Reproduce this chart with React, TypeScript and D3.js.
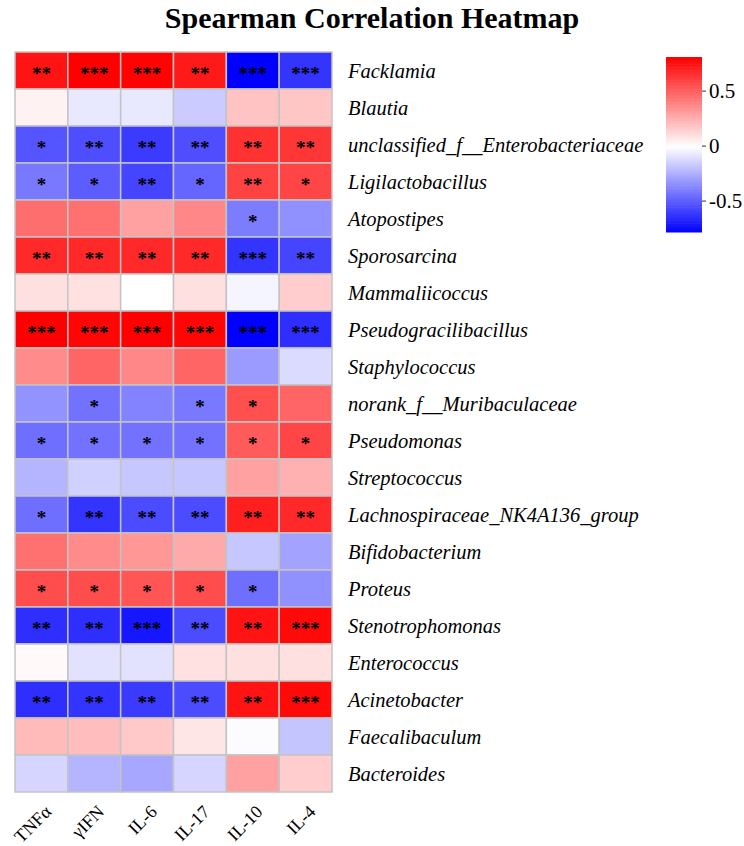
import React from 'react';
import * as d3 from 'd3';

const taxa = [
  'Facklamia', 'Blautia', 'unclassified_f__Enterobacteriaceae', 'Ligilactobacillus', 'Atopostipes',
  'Sporosarcina', 'Mammaliicoccus', 'Pseudogracilibacillus', 'Staphylococcus', 'norank_f__Muribaculaceae',
  'Pseudomonas', 'Streptococcus', 'Lachnospiraceae_NK4A136_group', 'Bifidobacterium', 'Proteus',
  'Stenotrophomonas', 'Enterococcus', 'Acinetobacter', 'Faecalibaculum', 'Bacteroides',
];

const cytokines = ['TNFα', 'γIFN', 'IL-6', 'IL-17', 'IL-10', 'IL-4'];

// spearman rho, one row per taxon, columns follow cytokines
const rho = [
  [0.75, 0.81, 0.80, 0.73, -0.78, -0.62],
  [0.04, -0.07, -0.07, -0.16, 0.19, 0.18],
  [-0.52, -0.54, -0.60, -0.54, 0.65, 0.64],
  [-0.41, -0.50, -0.57, -0.47, 0.60, 0.59],
  [0.46, 0.45, 0.30, 0.38, -0.40, -0.34],
  [0.68, 0.68, 0.68, 0.68, -0.62, -0.57],
  [0.10, 0.095, 0.0, 0.10, -0.03, 0.16],
  [0.81, 0.79, 0.81, 0.79, -0.78, -0.64],
  [0.37, 0.49, 0.38, 0.49, -0.31, -0.11],
  [-0.33, -0.43, -0.38, -0.41, 0.56, 0.49],
  [-0.44, -0.43, -0.43, -0.43, 0.52, 0.59],
  [-0.23, -0.14, -0.17, -0.17, 0.30, 0.25],
  [-0.44, -0.62, -0.55, -0.55, 0.71, 0.68],
  [0.45, 0.37, 0.33, 0.27, -0.17, -0.28],
  [0.57, 0.57, 0.54, 0.57, -0.44, -0.34],
  [-0.64, -0.64, -0.71, -0.55, 0.75, 0.78],
  [0.02, -0.09, -0.09, 0.095, 0.10, 0.10],
  [-0.64, -0.62, -0.60, -0.55, 0.75, 0.78],
  [0.22, 0.21, 0.17, 0.08, -0.01, -0.18],
  [-0.13, -0.23, -0.27, -0.13, 0.30, 0.16],
];

const stars = [
  ['**', '***', '***', '**', '***', '***'],
  ['', '', '', '', '', ''],
  ['*', '**', '**', '**', '**', '**'],
  ['*', '*', '**', '*', '**', '*'],
  ['', '', '', '', '*', ''],
  ['**', '**', '**', '**', '***', '**'],
  ['', '', '', '', '', ''],
  ['***', '***', '***', '***', '***', '***'],
  ['', '', '', '', '', ''],
  ['', '*', '', '*', '*', ''],
  ['*', '*', '*', '*', '*', '*'],
  ['', '', '', '', '', ''],
  ['*', '**', '**', '**', '**', '**'],
  ['', '', '', '', '', ''],
  ['*', '*', '*', '*', '*', ''],
  ['**', '**', '***', '**', '**', '***'],
  ['', '', '', '', '', ''],
  ['**', '**', '**', '**', '**', '***'],
  ['', '', '', '', '', ''],
  ['', '', '', '', '', ''],
];

const legendTicks = [0.5, 0, -0.5];
const rhoMin = -0.78;
const rhoMax = 0.81;

const W = 744;
const H = 846;
const font = '"Liberation Serif", "Times New Roman", serif';

const App: React.FC = () => {
  const grid = { left: 15, top: 52, width: 317, height: 740 };

  const x = d3.scaleBand<string>().domain(cytokines).range([grid.left, grid.left + grid.width]);
  const y = d3.scaleBand<string>().domain(taxa).range([grid.top, grid.top + grid.height]);

  const color = d3.scaleLinear<string>()
    .domain([rhoMin, 0, rhoMax])
    .range(['#0000ff', '#ffffff', '#ff0000'])
    .interpolate(d3.interpolateRgb)
    .clamp(true);

  // colour key, 110px per unit of rho
  const bar = { left: 666, width: 36, top: 57 };
  const keyScale = d3.scaleLinear().domain([rhoMax, rhoMin]).range([bar.top, bar.top + (rhoMax - rhoMin) * 110]);
  const keySteps = d3.range(0, 120).map(i => rhoMax - (i / 120) * (rhoMax - rhoMin));
  const stepH = (keyScale(rhoMin) - keyScale(rhoMax)) / 120;

  return (
    <svg width={W} height={H} style={{ position: 'absolute', left: 0, top: 0, background: '#fff' }} fontFamily={font}>
      <text x={W / 2} y={28} textAnchor="middle" fontSize={30} fontWeight="bold">
        Spearman Correlation Heatmap
      </text>

      {taxa.map((t, i) => (
        <g key={t}>
          {cytokines.map((c, j) => (
            <g key={c}>
              <rect
                x={x(c)}
                y={y(t)}
                width={x.bandwidth()}
                height={y.bandwidth()}
                fill={color(rho[i][j])}
                stroke="#c4c4c4"
                strokeWidth={1.5}
              />
              {stars[i][j] && (
                <text
                  x={(x(c) as number) + x.bandwidth() / 2}
                  y={(y(t) as number) + y.bandwidth() / 2 + 9.5}
                  textAnchor="middle"
                  fontSize={19}
                  fontWeight="bold"
                >
                  {stars[i][j]}
                </text>
              )}
            </g>
          ))}
          <text
            x={348}
            y={(y(t) as number) + y.bandwidth() / 2}
            dy="0.35em"
            fontSize={20.5}
            fontStyle="italic"
          >
            {t}
          </text>
        </g>
      ))}

      {cytokines.map(c => {
        const cx = (x(c) as number) + x.bandwidth() / 2 + 2;
        const cy = grid.top + grid.height + 12;
        return (
          <text
            key={c}
            transform={`translate(${cx},${cy}) rotate(-45)`}
            textAnchor="end"
            dy="0.7em"
            fontSize={18}
          >
            {c}
          </text>
        );
      })}

      <g>
        {keySteps.map((v, i) => (
          <rect key={i} x={bar.left} y={keyScale(v)} width={bar.width} height={stepH + 0.6} fill={color(v)} />
        ))}
        {legendTicks.map(t => (
          <g key={t} transform={`translate(${bar.left + bar.width},${keyScale(t)})`}>
            <line x1={0} x2={4} stroke="#333" strokeWidth={1} />
            <text x={7} dy="0.35em" fontSize={21}>{t}</text>
          </g>
        ))}
      </g>
    </svg>
  );
};

export default App;
